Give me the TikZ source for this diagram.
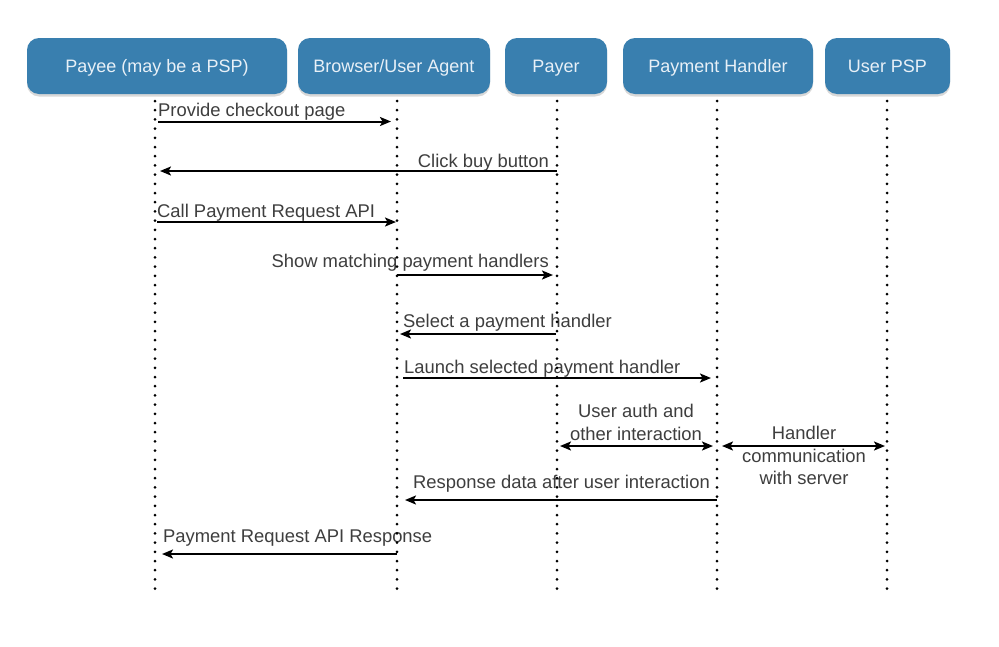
\documentclass[tikz,border=0pt]{standalone}
\usepackage{fontspec}
\setmainfont{Liberation Sans}
\usetikzlibrary{arrows.meta,shadows}
\definecolor{hdrblue}{RGB}{57,127,175}
\definecolor{hdrtext}{RGB}{232,240,247}
\definecolor{lbl}{RGB}{62,62,62}
\begin{document}
\begin{tikzpicture}[x=1pt,y=-1pt,
  hdr/.style={draw=none, fill=hdrblue, rounded corners=12pt, text=hdrtext,
    font=\fontsize{18}{22}\selectfont, minimum height=56pt, inner sep=0pt,
    text height=15.5pt, text depth=2pt,
    drop shadow={shadow xshift=0pt, shadow yshift=-2.5pt, opacity=0.3}},
  life/.style={line width=3pt, line cap=round, dash pattern=on 0pt off 9.2pt},
  tip/.tip={Stealth[length=11pt,width=9pt,inset=2.5pt]},
  msg/.style={line width=2pt, -tip},
  dmsg/.style={line width=2pt, tip-tip},
  lab/.style={font=\fontsize{18.4}{22.5}\selectfont, text=lbl, inner sep=0pt}]
\useasboundingbox (0,0) rectangle (999,646);
\fill[white] (0,0) rectangle (999,646);

% headers
\node[hdr, minimum width=260pt] (payee) at (157,66) {Payee (may be a PSP)};
\node[hdr, minimum width=192pt] (browser) at (394,66) {Browser/User Agent};
\node[hdr, minimum width=102pt] (payer) at (556,66) {Payer};
\node[hdr, minimum width=190pt] (handler) at (718,66) {Payment Handler};
\node[hdr, minimum width=125pt] (psp) at (887.5,66) {User PSP};

% lifeline coordinates
\coordinate (payeeT) at (155,101);   \coordinate (payeeB) at (155,589);
\coordinate (browserT) at (397,101); \coordinate (browserB) at (397,589);
\coordinate (payerT) at (557,101);   \coordinate (payerB) at (557,589);
\coordinate (handlerT) at (717,101); \coordinate (handlerB) at (717,589);
\coordinate (pspT) at (887,101);     \coordinate (pspB) at (887,589);

% labels
\node[lab, anchor=base west] (l1) at (158,116) {Provide checkout page};
\node[lab, anchor=base east] (l2) at (549,167) {Click buy button};
\node[lab, anchor=base west] (l3) at (157,217) {Call Payment Request API};
\node[lab, anchor=base east] (l4) at (549,267) {Show matching payment handlers};
\node[lab, anchor=base west] (l5) at (403,327) {Select a payment handler};
\node[lab, anchor=base west] (l6) at (404,373) {Launch selected payment handler};
\node[lab, align=center] (l7) at (636,422.5) {User auth and\\other interaction};
\node[lab, align=center] (l8) at (804,455.5) {Handler\\communication\\with server};
\node[lab, anchor=base west] (l9) at (413,488) {Response data after user interaction};
\node[lab, anchor=base west] (l10) at (163,542) {Payment Request API Response};

% lifelines
\foreach \n in {payee,browser,payer,handler,psp}
  \draw[life] (\n T) -- (\n B);

% message end points
\coordinate (m1a) at (158,121.5); \coordinate (m1b) at (391,121.5);
\coordinate (m2a) at (557,171);   \coordinate (m2b) at (160,171);
\coordinate (m3a) at (157,222);   \coordinate (m3b) at (396,222);
\coordinate (m4a) at (397,275);   \coordinate (m4b) at (553,275);
\coordinate (m5a) at (556,334);   \coordinate (m5b) at (400,334);
\coordinate (m6a) at (403,378);   \coordinate (m6b) at (711,378);
\coordinate (m7a) at (560,446);   \coordinate (m7b) at (713,446);
\coordinate (m8a) at (722,446);   \coordinate (m8b) at (885,446);
\coordinate (m9a) at (717,500);   \coordinate (m9b) at (405,500);
\coordinate (m10a) at (397,554);  \coordinate (m10b) at (162,554);

\draw[msg] (m1a) -- (m1b);
\draw[msg] (m2a) -- (m2b);
\draw[msg] (m3a) -- (m3b);
\draw[msg] (m4a) -- (m4b);
\draw[msg] (m5a) -- (m5b);
\draw[msg] (m6a) -- (m6b);
\draw[dmsg] (m7a) -- (m7b);
\draw[dmsg] (m8a) -- (m8b);
\draw[msg] (m9a) -- (m9b);
\draw[msg] (m10a) -- (m10b);
\end{tikzpicture}
\end{document}
